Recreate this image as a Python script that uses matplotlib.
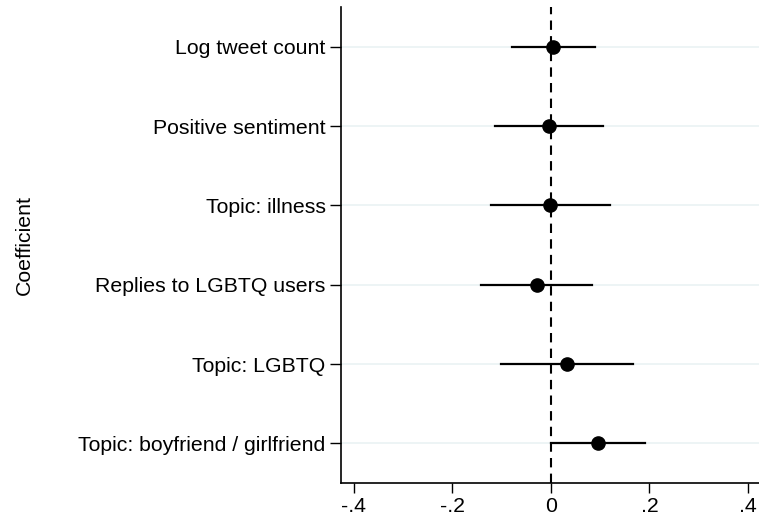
import matplotlib
matplotlib.use("Agg")
from matplotlib import pyplot as plt

plt.rcParams['font.family'] = ['Liberation Sans', 'DejaVu Sans']

# coefficient estimates with 95% CI (top to bottom)
labels = ["Log tweet count", "Positive sentiment", "Topic: illness",
          "Replies to LGBTQ users", "Topic: LGBTQ",
          "Topic: boyfriend / girlfriend"]
coef = [0.004, -0.003, -0.001, -0.029, 0.033, 0.095]
lower = [-0.079, -0.113, -0.122, -0.141, -0.101, 0.001]
upper = [0.089, 0.106, 0.120, 0.083, 0.167, 0.191]

xticks = [-0.4, -0.2, 0, 0.2, 0.4]
xticklabels = ["-.4", "-.2", "0", ".2", ".4"]

fig = plt.figure(figsize=(7.59, 5.21), dpi=100)
ax = fig.add_axes([341 / 759, 38 / 521, 1 - 341 / 759, 476 / 521])

n = len(labels)
ys = [n - i for i in range(n)]

for y in ys:
    ax.axhline(y, color='#eaf2f3', lw=1.2, zorder=0)

ax.axvline(0, color='black', lw=1.5, linestyle=(0, (4.5, 3)), zorder=1)

for y, c, lo, hi in zip(ys, coef, lower, upper):
    ax.plot([lo, hi], [y, y], color='black', lw=1.6, zorder=2)
ax.plot(coef, ys, 'o', color='black', markersize=9.5, zorder=3)

ax.set_xlim(-0.426, 0.4225)
ax.set_ylim(0.5, n + 0.5)
ax.set_yticks(ys)
ax.set_yticklabels(labels, fontsize=15.3)
ax.set_xticks(xticks)
ax.set_xticklabels(xticklabels, fontsize=15.3)
ax.tick_params(axis='y', length=8, width=1, pad=3)
ax.tick_params(axis='x', length=7, width=1, pad=3)
ax.set_ylabel("Coefficient", fontsize=15.3)
ax.yaxis.set_label_coords(-307 / 418, 0.5)

for s in ['top', 'right']:
    ax.spines[s].set_visible(False)
ax.spines['left'].set_linewidth(1.2)
ax.spines['bottom'].set_linewidth(1.2)

fig.savefig("out.png", dpi=100)
